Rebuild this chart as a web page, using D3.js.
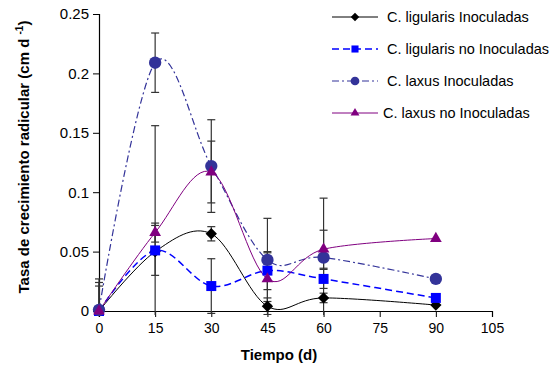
<!DOCTYPE html>
<html>
<head>
<meta charset="utf-8">
<script src="https://cdn.jsdelivr.net/npm/d3@7"></script>
<style>
  body { margin: 0; background: #fff; }
  text { font-family: Arial, "Liberation Sans", sans-serif; }
</style>
</head>
<body>
<script>
// days sampled
const days = [0, 15, 30, 45, 60, 90];

const ligInoc = [0, 0.050, 0.065, 0.004, 0.011, 0.005];
const ligInocErr = [0.027, 0.106, 0.006, 0.007, 0.004, 0];

const ligNoInoc = [0, 0.051, 0.021, 0.034, 0.027, 0.011];
const ligNoInocErr = [0.024, 0.021, 0.023, 0.016, 0.008, 0];

const laxInoc = [0.001, 0.209, 0.122, 0.043, 0.045, 0.027];
const laxInocErr = [0, 0.025, 0.039, 0.035, 0.050, 0];

const laxNoInoc = [0, 0.066, 0.117, 0.027, 0.052, 0.061];
const laxNoInocErr = [0.021, 0.008, 0.026, 0.022, 0.016, 0];

const xTicks = [0, 15, 30, 45, 60, 75, 90, 105];
const yTicks = [0, 0.05, 0.1, 0.15, 0.2, 0.25];

const width = 556, height = 366;
const plotLeft = 99, plotRight = 492, plotTop = 14, plotBottom = 311;

const series = [
  { name: 'C. ligularis Inoculadas', values: ligInoc, err: ligInocErr, color: '#000000', dash: null, lw: 1, marker: 'diamond' },
  { name: 'C. ligularis no Inoculadas', values: ligNoInoc, err: ligNoInocErr, color: '#0000ff', dash: '7,4', lw: 1.5, marker: 'square' },
  { name: 'C. laxus Inoculadas', values: laxInoc, err: laxInocErr, color: '#333399', dash: '7,3,2,3', lw: 1.2, marker: 'circle' },
  { name: 'C. laxus no Inoculadas', values: laxNoInoc, err: laxNoInocErr, color: '#800080', dash: null, lw: 1, marker: 'triangle' }
];

// symbol areas: plot / legend
const markerSize = {
  diamond: [64, 36],
  square: [100, 50],
  circle: [120, 60],
  triangle: [60, 34]
};
const markerType = {
  diamond: d3.symbolSquare,
  square: d3.symbolSquare,
  circle: d3.symbolCircle,
  triangle: d3.symbolTriangle
};

const svg = d3.select('body').append('svg')
  .attr('width', width)
  .attr('height', height);

const x = d3.scaleLinear().domain([0, 105]).range([plotLeft, plotRight]);
const y = d3.scaleLinear().domain([0, 0.25]).range([plotBottom, plotTop]);

svg.append('defs').append('clipPath').attr('id', 'plotclip')
  .append('rect').attr('x', plotLeft - 10).attr('y', plotTop - 4)
  .attr('width', plotRight - plotLeft + 20).attr('height', plotBottom - plotTop + 8);

// axes
const yAxis = svg.append('g')
  .attr('transform', `translate(${plotLeft},0)`)
  .call(d3.axisLeft(y).tickValues(yTicks).tickSize(6).tickPadding(4)
    .tickFormat(d => d === 0 ? '0' : String(+d.toFixed(2))));
const xAxis = svg.append('g')
  .attr('transform', `translate(0,${plotBottom})`)
  .call(d3.axisBottom(x).tickValues(xTicks).tickSize(6).tickPadding(6));

[yAxis, xAxis].forEach(g => {
  g.select('.domain').attr('stroke', '#000').attr('stroke-width', 1.2);
  g.selectAll('.tick line').attr('stroke', '#000');
  g.selectAll('.tick text').attr('fill', '#000')
    .style('font-family', 'Arial, "Liberation Sans", sans-serif');
});
yAxis.selectAll('.tick text').style('font-size', '15px');
xAxis.selectAll('.tick text').style('font-size', '14px');

// error bars
const eb = svg.append('g').attr('clip-path', 'url(#plotclip)');
series.forEach(s => {
  s.values.forEach((v, i) => {
    const e = s.err[i];
    if (!e) return;
    const cx = x(days[i]);
    const y1 = y(v + e), y2 = y(v - e);
    eb.append('line').attr('x1', cx).attr('x2', cx).attr('y1', y1).attr('y2', y2)
      .attr('stroke', '#333').attr('stroke-width', 1.2);
    [y1, y2].forEach(yy => {
      eb.append('line').attr('x1', cx - 4).attr('x2', cx + 4).attr('y1', yy).attr('y2', yy)
        .attr('stroke', '#333').attr('stroke-width', 1.2);
    });
  });
});

const line = d3.line()
  .x((d, i) => x(days[i]))
  .y(d => y(d))
  .curve(d3.curveCatmullRom.alpha(0));

function drawMarker(g, s, cx, cy, legendSize) {
  const size = markerSize[s.marker][legendSize ? 1 : 0];
  let tr = `translate(${cx},${cy})`;
  if (s.marker === 'diamond') tr += ' rotate(45)';
  g.append('path')
    .attr('d', d3.symbol().type(markerType[s.marker]).size(size)())
    .attr('transform', tr)
    .attr('fill', s.color);
}

series.forEach(s => {
  svg.append('path')
    .datum(s.values)
    .attr('d', line)
    .attr('fill', 'none')
    .attr('stroke', s.color)
    .attr('stroke-width', s.lw)
    .attr('stroke-dasharray', s.dash);
});

series.forEach(s => {
  const g = svg.append('g');
  s.values.forEach((v, i) => drawMarker(g, s, x(days[i]), y(v), false));
});

// legend
const legend = svg.append('g');
series.forEach((s, i) => {
  const ly = 17 + i * 32;
  legend.append('line').attr('x1', 332).attr('x2', 378).attr('y1', ly).attr('y2', ly)
    .attr('stroke', s.color).attr('stroke-width', s.lw)
    .attr('stroke-dasharray', s.dash);
  drawMarker(legend, s, 355, ly, true);
  legend.append('text').attr('x', i === 3 ? 383 : 387).attr('y', ly + 5)
    .style('font-size', '14.5px').attr('fill', '#000').text(s.name);
});

// axis titles
svg.append('text')
  .attr('x', 279).attr('y', 360)
  .attr('text-anchor', 'middle')
  .style('font-size', '15px').style('font-weight', 'bold')
  .text('Tiempo (d)');

const yt = svg.append('text')
  .attr('transform', 'translate(29,157) rotate(-90)')
  .attr('text-anchor', 'middle')
  .style('font-size', '15px').style('font-weight', 'bold');
yt.append('tspan').text('Tasa de crecimiento radicular (cm d ');
yt.append('tspan').attr('dy', -6).style('font-size', '10px').text('-1');
yt.append('tspan').attr('dy', 6).text(')');
</script>
</body>
</html>
